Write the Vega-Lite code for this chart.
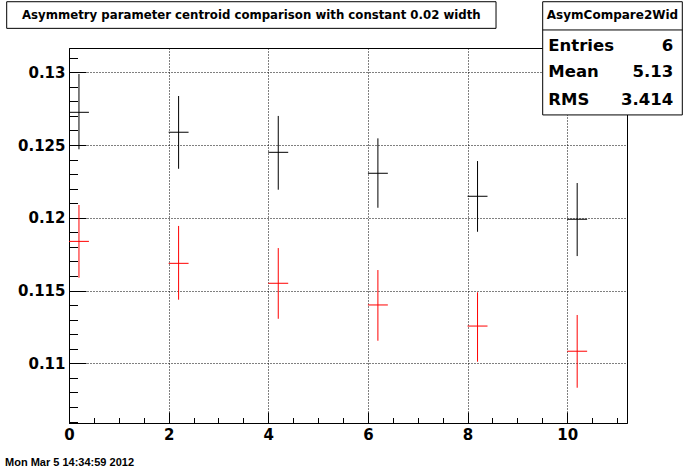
{
  "$schema": "https://vega.github.io/schema/vega-lite/v6.json",
  "width": 558,
  "height": 375,
  "autosize": {"type": "none"},
  "padding": {"left": 69, "top": 48, "right": 69, "bottom": 49},
  "background": "white",
  "config": {
    "view": {"stroke": "black", "strokeWidth": 1},
    "axis": {"zindex": 0, "labelFlush": false, "labelOverlap": false, "title": null, "tickColor": "black", "domainColor": "black", "tickWidth": 1, "domainWidth": 1}
  },
  "data": {
    "values": [
      {"series": "black", "x": 0.2, "xlo": 0.0, "xhi": 0.4, "y": 0.12725, "ylo": 0.12471, "yhi": 0.12988},
      {"series": "black", "x": 2.2, "xlo": 2.0, "xhi": 2.4, "y": 0.12588, "ylo": 0.12337, "yhi": 0.12837},
      {"series": "black", "x": 4.2, "xlo": 4.0, "xhi": 4.4, "y": 0.1245, "ylo": 0.12193, "yhi": 0.127},
      {"series": "black", "x": 6.2, "xlo": 6.0, "xhi": 6.4, "y": 0.12306, "ylo": 0.12069, "yhi": 0.12546},
      {"series": "black", "x": 8.2, "xlo": 8.0, "xhi": 8.4, "y": 0.12148, "ylo": 0.11904, "yhi": 0.1239},
      {"series": "black", "x": 10.2, "xlo": 10.0, "xhi": 10.4, "y": 0.1199, "ylo": 0.11737, "yhi": 0.12239},
      {"series": "red", "x": 0.2, "xlo": 0.0, "xhi": 0.4, "y": 0.11838, "ylo": 0.11588, "yhi": 0.12088},
      {"series": "red", "x": 2.2, "xlo": 2.0, "xhi": 2.4, "y": 0.11687, "ylo": 0.11437, "yhi": 0.11944},
      {"series": "red", "x": 4.2, "xlo": 4.0, "xhi": 4.4, "y": 0.1155, "ylo": 0.11306, "yhi": 0.11792},
      {"series": "red", "x": 6.2, "xlo": 6.0, "xhi": 6.4, "y": 0.11401, "ylo": 0.11155, "yhi": 0.11641},
      {"series": "red", "x": 8.2, "xlo": 8.0, "xhi": 8.4, "y": 0.11256, "ylo": 0.11011, "yhi": 0.11488},
      {"series": "red", "x": 10.2, "xlo": 10.0, "xhi": 10.4, "y": 0.11083, "ylo": 0.10832, "yhi": 0.11332}
    ]
  },
  "layer": [
    {
      "mark": {"type": "rule", "strokeWidth": 1},
      "encoding": {
        "x": {"field": "x", "type": "quantitative",
          "scale": {"domain": [0, 11.2], "nice": false, "zero": false},
          "axis": {"orient": "bottom", "values": [0, 2, 4, 6, 8, 10], "grid": true, "gridColor": "black", "gridDash": [1, 2], "gridWidth": 1, "gridOpacity": 1,
            "tickSize": -11, "labelFont": "DejaVu Sans", "labelFontWeight": "bold", "labelFontSize": 15, "labelColor": "black", "labelPadding": 15}},
        "y": {"field": "ylo", "type": "quantitative",
          "scale": {"domain": [0.105897, 0.13167], "nice": false, "zero": false},
          "axis": {"orient": "left", "values": [0.11, 0.115, 0.12, 0.125, 0.13], "format": "~g", "grid": true, "gridColor": "black", "gridDash": [1, 2], "gridWidth": 1, "gridOpacity": 1,
            "tickSize": -17, "labelFont": "DejaVu Sans", "labelFontWeight": "bold", "labelFontSize": 15, "labelColor": "black", "labelPadding": 21}},
        "y2": {"field": "yhi"},
        "color": {"field": "series", "type": "nominal", "scale": {"domain": ["black", "red"], "range": ["#000000", "#ff0000"]}, "legend": null}
      }
    },
    {
      "mark": {"type": "rule", "strokeWidth": 1},
      "encoding": {
        "x": {"field": "xlo", "type": "quantitative",
          "axis": {"orient": "bottom", "values": [0, 0.5, 1, 1.5, 2, 2.5, 3, 3.5, 4, 4.5, 5, 5.5, 6, 6.5, 7, 7.5, 8, 8.5, 9, 9.5, 10, 10.5, 11],
            "labels": false, "grid": false, "domain": false, "tickSize": -5.5}},
        "x2": {"field": "xhi"},
        "y": {"field": "y", "type": "quantitative",
          "axis": {"orient": "left", "values": [0.106, 0.107, 0.108, 0.109, 0.11, 0.111, 0.112, 0.113, 0.114, 0.115, 0.116, 0.117, 0.118, 0.119, 0.12, 0.121, 0.122, 0.123, 0.124, 0.125, 0.126, 0.127, 0.128, 0.129, 0.13, 0.131],
            "labels": false, "grid": false, "domain": false, "tickSize": -8.5}},
        "color": {"field": "series", "type": "nominal", "legend": null}
      }
    },
    {
      "data": {"values": [{}]},
      "mark": {"type": "rect", "fill": "white", "stroke": "black", "strokeWidth": 1, "clip": false},
      "encoding": {
        "x": {"datum": 9.508, "type": "quantitative", "axis": null},
        "x2": {"datum": 12.31},
        "y": {"datum": 0.13485, "type": "quantitative", "axis": null},
        "y2": {"datum": 0.12707}
      }
    },
    {
      "data": {"values": [{}]},
      "mark": {"type": "rule", "stroke": "black", "strokeWidth": 1, "clip": false},
      "encoding": {
        "x": {"datum": 9.508, "type": "quantitative", "axis": null},
        "x2": {"datum": 12.31},
        "y": {"datum": 0.13291, "type": "quantitative", "axis": null}
      }
    },
    {
      "data": {"values": [{}]},
      "mark": {"type": "text", "text": "AsymCompare2Wid", "font": "DejaVu Sans", "fontWeight": "bold", "fontSize": 12, "align": "center", "baseline": "middle", "color": "black", "clip": false},
      "encoding": {
        "x": {"datum": 10.909, "type": "quantitative", "axis": null},
        "y": {"datum": 0.13394, "type": "quantitative", "axis": null}
      }
    },
    {
      "data": {"values": [{}]},
      "mark": {"type": "text", "text": "Entries", "font": "DejaVu Sans", "fontWeight": "bold", "fontSize": 16.5, "align": "left", "baseline": "middle", "color": "black", "clip": false},
      "encoding": {
        "x": {"datum": 9.62, "type": "quantitative", "axis": null},
        "y": {"datum": 0.13182, "type": "quantitative", "axis": null}
      }
    },
    {
      "data": {"values": [{}]},
      "mark": {"type": "text", "text": "6", "font": "DejaVu Sans", "fontWeight": "bold", "fontSize": 16.5, "align": "right", "baseline": "middle", "color": "black", "clip": false},
      "encoding": {
        "x": {"datum": 12.129, "type": "quantitative", "axis": null},
        "y": {"datum": 0.13182, "type": "quantitative", "axis": null}
      }
    },
    {
      "data": {"values": [{}]},
      "mark": {"type": "text", "text": "Mean", "font": "DejaVu Sans", "fontWeight": "bold", "fontSize": 16.5, "align": "left", "baseline": "middle", "color": "black", "clip": false},
      "encoding": {
        "x": {"datum": 9.62, "type": "quantitative", "axis": null},
        "y": {"datum": 0.13002, "type": "quantitative", "axis": null}
      }
    },
    {
      "data": {"values": [{}]},
      "mark": {"type": "text", "text": "5.13", "font": "DejaVu Sans", "fontWeight": "bold", "fontSize": 16.5, "align": "right", "baseline": "middle", "color": "black", "clip": false},
      "encoding": {
        "x": {"datum": 12.129, "type": "quantitative", "axis": null},
        "y": {"datum": 0.13002, "type": "quantitative", "axis": null}
      }
    },
    {
      "data": {"values": [{}]},
      "mark": {"type": "text", "text": "RMS", "font": "DejaVu Sans", "fontWeight": "bold", "fontSize": 16.5, "align": "left", "baseline": "middle", "color": "black", "clip": false},
      "encoding": {
        "x": {"datum": 9.62, "type": "quantitative", "axis": null},
        "y": {"datum": 0.1281, "type": "quantitative", "axis": null}
      }
    },
    {
      "data": {"values": [{}]},
      "mark": {"type": "text", "text": "3.414", "font": "DejaVu Sans", "fontWeight": "bold", "fontSize": 16.5, "align": "right", "baseline": "middle", "color": "black", "clip": false},
      "encoding": {
        "x": {"datum": 12.129, "type": "quantitative", "axis": null},
        "y": {"datum": 0.1281, "type": "quantitative", "axis": null}
      }
    },
    {
      "data": {"values": [{}]},
      "mark": {"type": "rect", "fill": "white", "stroke": "black", "strokeWidth": 1, "clip": false},
      "encoding": {
        "x": {"datum": -1.2505, "type": "quantitative", "axis": null},
        "x2": {"datum": 8.571},
        "y": {"datum": 0.13485, "type": "quantitative", "axis": null},
        "y2": {"datum": 0.13302}
      }
    },
    {
      "data": {"values": [{}]},
      "mark": {"type": "text", "text": "Asymmetry parameter centroid comparison with constant 0.02 width", "font": "DejaVu Sans", "fontWeight": "bold", "fontSize": 11.75, "align": "left", "baseline": "middle", "color": "black", "clip": false},
      "encoding": {
        "x": {"datum": -0.9434, "type": "quantitative", "axis": null},
        "y": {"datum": 0.13394, "type": "quantitative", "axis": null}
      }
    },
    {
      "data": {"values": [{}]},
      "mark": {"type": "text", "text": "Mon Mar  5 14:34:59 2012", "font": "Liberation Sans", "fontWeight": "bold", "fontSize": 11, "align": "left", "baseline": "middle", "color": "black", "clip": false},
      "encoding": {
        "x": {"datum": -1.2846, "type": "quantitative", "axis": null},
        "y": {"datum": 0.103147, "type": "quantitative", "axis": null}
      }
    }
  ],
  "resolve": {"axis": {"x": "independent", "y": "independent"}}
}
